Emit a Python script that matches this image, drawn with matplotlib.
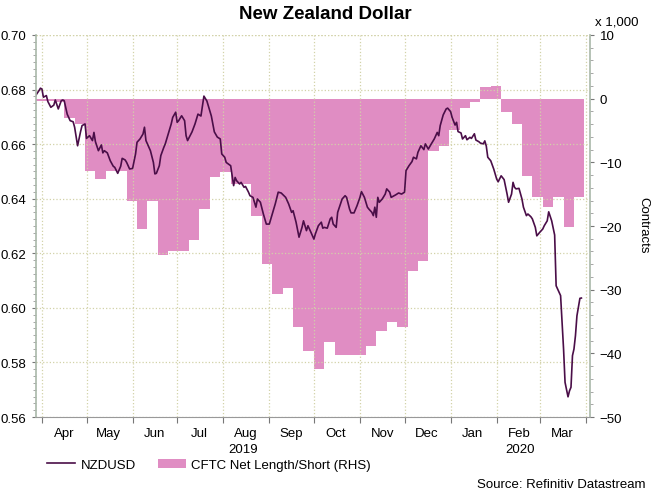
import numpy as np
import pandas as pd
import matplotlib
matplotlib.use('Agg')
import matplotlib.pyplot as plt
import matplotlib.dates as mdates
from matplotlib.lines import Line2D
from matplotlib.patches import Patch
from matplotlib.ticker import MultipleLocator, NullFormatter
from matplotlib.transforms import blended_transform_factory

plt.rcParams['font.family'] = ['Liberation Sans', 'DejaVu Sans']
plt.rcParams['font.size'] = 9.5

# NZDUSD spot
nzd_dates = [
    '2019-03-28', '2019-03-30', '2019-03-31', '2019-04-01', '2019-04-02', '2019-04-04', '2019-04-05', '2019-04-07',
    '2019-04-09', '2019-04-10', '2019-04-12', '2019-04-14', '2019-04-15', '2019-04-16', '2019-04-18', '2019-04-20',
    '2019-04-22', '2019-04-23', '2019-04-25', '2019-04-27', '2019-04-28', '2019-04-30', '2019-05-01', '2019-05-03',
    '2019-05-05', '2019-05-06', '2019-05-07', '2019-05-09', '2019-05-11', '2019-05-12', '2019-05-13', '2019-05-15',
    '2019-05-17', '2019-05-19', '2019-05-20', '2019-05-22', '2019-05-24', '2019-05-25', '2019-05-27', '2019-05-28',
    '2019-05-30', '2019-06-01', '2019-06-03', '2019-06-04', '2019-06-06', '2019-06-08', '2019-06-09', '2019-06-10',
    '2019-06-12', '2019-06-13', '2019-06-15', '2019-06-16', '2019-06-17', '2019-06-19', '2019-06-20', '2019-06-22',
    '2019-06-23', '2019-06-25', '2019-06-27', '2019-06-28', '2019-06-30', '2019-07-01', '2019-07-02', '2019-07-04',
    '2019-07-06', '2019-07-07', '2019-07-08', '2019-07-11', '2019-07-13', '2019-07-15', '2019-07-17', '2019-07-19',
    '2019-07-21', '2019-07-22', '2019-07-24', '2019-07-26', '2019-07-28', '2019-07-30', '2019-07-31', '2019-08-02',
    '2019-08-03', '2019-08-06', '2019-08-07', '2019-08-08', '2019-08-09', '2019-08-10', '2019-08-12', '2019-08-13',
    '2019-08-15', '2019-08-16', '2019-08-18', '2019-08-19', '2019-08-21', '2019-08-23', '2019-08-24', '2019-08-26',
    '2019-08-28', '2019-08-30', '2019-09-01', '2019-09-03', '2019-09-05', '2019-09-07', '2019-09-09', '2019-09-12',
    '2019-09-14', '2019-09-16', '2019-09-17', '2019-09-19', '2019-09-21', '2019-09-23', '2019-09-24', '2019-09-26',
    '2019-09-27', '2019-09-29', '2019-10-01', '2019-10-02', '2019-10-04', '2019-10-06', '2019-10-07', '2019-10-08',
    '2019-10-10', '2019-10-12', '2019-10-13', '2019-10-14', '2019-10-16', '2019-10-17', '2019-10-20', '2019-10-22',
    '2019-10-23', '2019-10-25', '2019-10-26', '2019-10-28', '2019-10-30', '2019-11-01', '2019-11-02', '2019-11-04',
    '2019-11-06', '2019-11-07', '2019-11-09', '2019-11-10', '2019-11-11', '2019-11-12', '2019-11-13', '2019-11-14',
    '2019-11-16', '2019-11-18', '2019-11-19', '2019-11-21', '2019-11-22', '2019-11-25', '2019-11-27', '2019-11-29',
    '2019-12-01', '2019-12-02', '2019-12-04', '2019-12-06', '2019-12-07', '2019-12-09', '2019-12-10', '2019-12-12',
    '2019-12-14', '2019-12-15', '2019-12-17', '2019-12-19', '2019-12-21', '2019-12-23', '2019-12-24', '2019-12-25',
    '2019-12-27', '2019-12-29', '2019-12-30', '2020-01-01', '2020-01-02', '2020-01-04', '2020-01-05', '2020-01-06',
    '2020-01-08', '2020-01-09', '2020-01-11', '2020-01-12', '2020-01-14', '2020-01-15', '2020-01-17', '2020-01-18',
    '2020-01-20', '2020-01-21', '2020-01-23', '2020-01-24', '2020-01-25', '2020-01-26', '2020-01-28', '2020-01-30',
    '2020-02-01', '2020-02-02', '2020-02-04', '2020-02-06', '2020-02-08', '2020-02-09', '2020-02-11', '2020-02-12',
    '2020-02-13', '2020-02-14', '2020-02-16', '2020-02-18', '2020-02-19', '2020-02-21', '2020-02-22', '2020-02-24',
    '2020-02-25', '2020-02-27', '2020-02-28', '2020-03-01', '2020-03-03', '2020-03-04', '2020-03-06', '2020-03-07',
    '2020-03-09', '2020-03-11', '2020-03-12', '2020-03-14', '2020-03-15', '2020-03-16', '2020-03-17', '2020-03-18',
    '2020-03-20', '2020-03-21', '2020-03-22', '2020-03-23', '2020-03-24', '2020-03-25', '2020-03-26', '2020-03-28',
    '2020-03-29',
]
nzd_values = [
    0.6780, 0.6796, 0.6805, 0.6802, 0.6772, 0.6778, 0.6756, 0.6735,
    0.6743, 0.6762, 0.6729, 0.6759, 0.6762, 0.6759, 0.6710, 0.6686,
    0.6682, 0.6662, 0.6594, 0.6646, 0.6668, 0.6674, 0.6621, 0.6631,
    0.6613, 0.6643, 0.6609, 0.6576, 0.6597, 0.6568, 0.6576, 0.6568,
    0.6539, 0.6519, 0.6515, 0.6493, 0.6519, 0.6548, 0.6542, 0.6533,
    0.6509, 0.6511, 0.6564, 0.6607, 0.6619, 0.6637, 0.6662, 0.6613,
    0.6588, 0.6576, 0.6533, 0.6491, 0.6493, 0.6521, 0.6558, 0.6588,
    0.6601, 0.6637, 0.6674, 0.6698, 0.6717, 0.6680, 0.6686, 0.6704,
    0.6686, 0.6631, 0.6613, 0.6645, 0.6674, 0.6710, 0.6703, 0.6776,
    0.6758, 0.6740, 0.6703, 0.6645, 0.6626, 0.6619, 0.6564, 0.6552,
    0.6533, 0.6521, 0.6484, 0.6448, 0.6478, 0.6466, 0.6454, 0.6460,
    0.6442, 0.6445, 0.6424, 0.6411, 0.6405, 0.6369, 0.6399, 0.6387,
    0.6344, 0.6307, 0.6307, 0.6344, 0.6381, 0.6424, 0.6421, 0.6405,
    0.6381, 0.6350, 0.6356, 0.6314, 0.6259, 0.6295, 0.6319, 0.6283,
    0.6301, 0.6277, 0.6252, 0.6271, 0.6301, 0.6314, 0.6292, 0.6295,
    0.6292, 0.6326, 0.6332, 0.6307, 0.6295, 0.6350, 0.6399, 0.6411,
    0.6405, 0.6362, 0.6348, 0.6348, 0.6374, 0.6405, 0.6426, 0.6405,
    0.6369, 0.6362, 0.6350, 0.6338, 0.6369, 0.6332, 0.6405, 0.6387,
    0.6399, 0.6417, 0.6436, 0.6424, 0.6405, 0.6414, 0.6421, 0.6417,
    0.6424, 0.6503, 0.6521, 0.6536, 0.6552, 0.6546, 0.6570, 0.6594,
    0.6580, 0.6601, 0.6582, 0.6601, 0.6619, 0.6643, 0.6631, 0.6668,
    0.6707, 0.6729, 0.6732, 0.6719, 0.6698, 0.6670, 0.6680, 0.6646,
    0.6641, 0.6619, 0.6631, 0.6616, 0.6625, 0.6621, 0.6638, 0.6615,
    0.6609, 0.6604, 0.6601, 0.6612, 0.6593, 0.6552, 0.6539, 0.6509,
    0.6472, 0.6462, 0.6484, 0.6470, 0.6417, 0.6387, 0.6417, 0.6460,
    0.6442, 0.6436, 0.6438, 0.6399, 0.6369, 0.6338, 0.6344, 0.6334,
    0.6326, 0.6295, 0.6264, 0.6277, 0.6289, 0.6301, 0.6319, 0.6352,
    0.6319, 0.6267, 0.6081, 0.6057, 0.6045, 0.5947, 0.5849, 0.5727,
    0.5674, 0.5696, 0.5709, 0.5825, 0.5849, 0.5898, 0.5971, 0.6035,
    0.6036,
]

# CFTC weekly net positioning, thousands of contracts (week start dates + final edge)
cftc_weeks = [
    '2019-03-26', '2019-04-02', '2019-04-09', '2019-04-16', '2019-04-23', '2019-04-30', '2019-05-07', '2019-05-14',
    '2019-05-21', '2019-05-28', '2019-06-04', '2019-06-11', '2019-06-18', '2019-06-25', '2019-07-02', '2019-07-09',
    '2019-07-16', '2019-07-23', '2019-07-30', '2019-08-06', '2019-08-13', '2019-08-20', '2019-08-27', '2019-09-03',
    '2019-09-10', '2019-09-17', '2019-09-24', '2019-10-01', '2019-10-08', '2019-10-15', '2019-10-22', '2019-10-29',
    '2019-11-05', '2019-11-12', '2019-11-19', '2019-11-26', '2019-12-03', '2019-12-10', '2019-12-17', '2019-12-24',
    '2019-12-31', '2020-01-07', '2020-01-14', '2020-01-21', '2020-01-28', '2020-02-04', '2020-02-11', '2020-02-18',
    '2020-02-25', '2020-03-03', '2020-03-10', '2020-03-17', '2020-03-24', '2020-03-31',
]
cftc_net = [
    -0.3, -0.3, -0.5, -3.0, -4.0, -11.3, -12.6, -11.3,
    -11.3, -16.0, -20.4, -16.0, -24.5, -24.0, -24.0, -22.2,
    -17.3, -12.3, -11.5, -13.4, -13.4, -18.4, -26.0, -30.7,
    -29.8, -35.9, -39.6, -42.4, -38.2, -40.3, -40.3, -40.3,
    -38.8, -36.5, -35.1, -35.8, -27.1, -25.5, -8.2, -7.4,
    -5.0, -1.4, -0.5, 1.8, 2.0, -2.1, -4.0, -12.1,
    -15.4, -17.0, -15.4, -20.1, -15.4,
]

line_color = '#4A0E48'
fill_color = '#E08DC3'
spine_color = '#A9B8A9'
grid_color = '#D2D2A8'

fig = plt.figure(figsize=(6.59, 5.02), dpi=100)
ax = fig.add_axes([0.0546, 0.1673, 0.8407, 0.7610])
ax2 = ax.twinx()
ax.set_zorder(ax2.get_zorder() + 1)
ax.patch.set_visible(False)

edges = mdates.date2num(pd.to_datetime(cftc_weeks))
ax2.stairs(cftc_net, edges, baseline=0, fill=True, color=fill_color, linewidth=0)
ax.plot(pd.to_datetime(nzd_dates), nzd_values, color=line_color, lw=1.2)

x0, x1 = pd.Timestamp('2019-03-28'), pd.Timestamp('2020-04-03 19:00')
ax.set_xlim(x0, x1)
ax.set_ylim(0.56, 0.70)
ax2.set_ylim(-50, 10)

ax.yaxis.set_major_locator(MultipleLocator(0.02))
ax.yaxis.set_minor_locator(MultipleLocator(0.0025))
ax.yaxis.set_major_formatter(matplotlib.ticker.FormatStrFormatter('%.2f'))
ax2.yaxis.set_major_locator(MultipleLocator(10))
ax2.yaxis.set_minor_locator(MultipleLocator(2))

ax.xaxis.set_major_locator(mdates.MonthLocator())
ax.xaxis.set_major_formatter(NullFormatter())
ax.xaxis.set_minor_locator(mdates.MonthLocator(bymonthday=16))
ax.xaxis.set_minor_formatter(mdates.DateFormatter('%b'))
ax.tick_params(axis='x', which='major', length=4, width=0.8, color='#777777', direction='out')
ax.tick_params(axis='x', which='minor', length=0, pad=7)

for a in (ax, ax2):
    a.tick_params(axis='y', which='major', length=3, width=0.8, color='#777777', pad=4)
    a.tick_params(axis='y', which='minor', length=2, width=0.6, color='#999999')
    for s in a.spines.values():
        s.set_visible(False)

ax.spines['left'].set_visible(True)
ax.spines['left'].set_color(spine_color)
ax.spines['left'].set_linewidth(1.2)
ax.spines['bottom'].set_visible(True)
ax.spines['bottom'].set_color('#999999')
ax.spines['bottom'].set_linewidth(0.8)
ax2.spines['right'].set_visible(True)
ax2.spines['right'].set_color(spine_color)
ax2.spines['right'].set_linewidth(1.2)

ax.grid(True, axis='y', which='major', color=grid_color, linestyle=':', linewidth=0.9)
ax.grid(True, axis='x', which='major', color=grid_color, linestyle=':', linewidth=0.9)
ax.axhline(0.70, color=grid_color, linestyle=':', linewidth=0.9)

# year labels centred under each year's visible span
yr = blended_transform_factory(ax.transData, ax.transAxes)
jan = pd.Timestamp('2020-01-01')
ax.text(x0 + (jan - x0) / 2, -0.084, '2019', transform=yr, ha='center', va='center')
ax.text(jan + (x1 - jan) / 2, -0.084, '2020', transform=yr, ha='center', va='center')

fig.text(0.493, 0.972, 'New Zealand Dollar', ha='center', va='center', fontsize=13.5, fontweight='bold')
fig.text(0.903, 0.956, 'x 1,000', ha='left', va='center')
fig.text(0.977, 0.552, 'Contracts', rotation=270, ha='center', va='center')
fig.text(0.980, 0.034, 'Source: Refinitiv Datastream', ha='right', va='center')

handles = [Line2D([0], [0], color=line_color, lw=1.2),
           Patch(facecolor=fill_color, edgecolor='none')]
fig.legend(handles, ['NZDUSD', 'CFTC Net Length/Short (RHS)'], loc='center left',
           bbox_to_anchor=(0.062, 0.072), ncol=2, frameon=False, borderpad=0,
           handlelength=2.1, handletextpad=0.4, columnspacing=1.7)

fig.savefig('out.png', dpi=100)
